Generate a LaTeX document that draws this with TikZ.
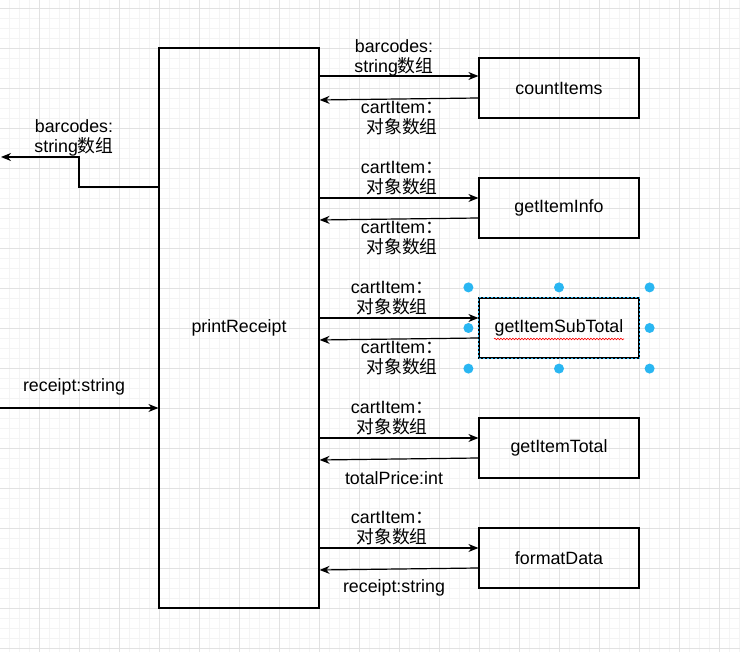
\documentclass[tikz,border=0pt]{standalone}
\usepackage{fontspec}
\setmainfont{Liberation Sans}
\newfontfamily\cjk{Noto Sans CJK SC}
\usetikzlibrary{arrows.meta,decorations.pathmorphing,calc}
\newcommand\zh[1]{{\cjk #1}}
\definecolor{handleblue}{HTML}{29B6F2}
\definecolor{minorgrid}{HTML}{F4F4F4}
\definecolor{majorgrid}{HTML}{E2E2E2}
\begin{document}
\begin{tikzpicture}[x=1pt,y=-1pt,
 box/.style={draw,line width=1.2pt,minimum width=160pt,minimum height=60pt,inner sep=0pt,font=\fontsize{17.8}{20}\selectfont},
 arr/.style={line width=1.2pt,-{Stealth[length=10pt,width=8pt]}},
 lbl/.style={align=center,inner sep=0pt,font=\fontsize{17.8}{20}\selectfont},
 handle/.style={circle,fill=handleblue,inner sep=0pt,minimum size=10pt}]
\useasboundingbox (0,0) rectangle (740,652);
\fill[white] (0,0) rectangle (740,652);
% grid
\foreach \x in {9.5,19.5,...,739.5} \draw[minorgrid,line width=0.8pt] (\x,0) -- (\x,652);
\foreach \y in {8,18,...,648} \draw[minorgrid,line width=0.8pt] (0,\y) -- (740,\y);
\foreach \x in {39.5,79.5,...,719.5} \draw[majorgrid,line width=0.8pt] (\x,0) -- (\x,652);
\foreach \y in {8,48,...,648} \draw[majorgrid,line width=0.8pt] (0,\y) -- (740,\y);

% nodes
\node[box,minimum height=560pt] (pr) at (239,328) {printReceipt};
\node[box] (ci) at (559,88) {countItems};
\node[box] (gi) at (559,208) {getItemInfo};
\node[box] (gs) at (559,328) {getItemSubTotal};
\node[box] (gt) at (559,448) {getItemTotal};
\node[box] (fd) at (559,558) {formatData};

% connectors right
\draw[arr] (pr.east |- 0,76) -- (ci.west |- 0,76);
\draw[arr] (ci.west |- 0,98) -- (pr.east |- 0,100);
\draw[arr] (pr.east |- 0,198) -- (gi.west |- 0,198);
\draw[arr] (gi.west |- 0,218) -- (pr.east |- 0,220);
\draw[arr] (pr.east |- 0,318) -- (gs.west |- 0,318);
\draw[arr] (gs.west |- 0,338) -- (pr.east |- 0,340);
\draw[arr] (pr.east |- 0,438) -- (gt.west |- 0,438);
\draw[arr] (gt.west |- 0,458) -- (pr.east |- 0,460);
\draw[arr] (pr.east |- 0,548) -- (fd.west |- 0,548);
\draw[arr] (fd.west |- 0,568) -- (pr.east |- 0,570);

% left connectors
\coordinate (outL) at (1,157);
\coordinate (inR) at (0,408);
\draw[arr] (pr.west |- 0,187) -| (79,157) -- (outL);
\draw[arr] (inR) -- (pr.west |- 0,408);

% labels
\node[lbl] (l1) at (394,58) {barcodes:\\string\zh{数组}};
\node[lbl] (l2) at (402,118) {cartItem\zh{：}\\\zh{对象数组}};
\node[lbl] (l3) at (402,178) {cartItem\zh{：}\\\zh{对象数组}};
\node[lbl] (l4) at (402,238) {cartItem\zh{：}\\\zh{对象数组}};
\node[lbl] (l5) at (392,298) {cartItem\zh{：}\\\zh{对象数组}};
\node[lbl] (l6) at (402,358) {cartItem\zh{：}\\\zh{对象数组}};
\node[lbl] (l7) at (392,418) {cartItem\zh{：}\\\zh{对象数组}};
\node[lbl] (l8) at (394,478) {totalPrice:int};
\node[lbl] (l9) at (392,528) {cartItem\zh{：}\\\zh{对象数组}};
\node[lbl] (l10) at (394,588) {receipt:string};
\node[lbl] (l11) at (74,138) {barcodes:\\string\zh{数组}};
\node[lbl] (l12) at (74,387) {receipt:string};

% selection decoration
\draw[handleblue,line width=1.2pt,dash pattern=on 2pt off 2pt,dash phase=2pt] (gs.north west) rectangle (gs.south east);
\draw[red,line width=0.6pt,decorate,decoration={snake,amplitude=0.8pt,segment length=3pt}] (494,339) -- (624,339);
\foreach \p/\q in {north west/{-10,-10},north/{0,-10},north east/{10,-10},west/{-10,0},east/{10,0},south west/{-10,10},south/{0,10},south east/{10,10}}
  \node[handle] at ($(gs.\p)+(\q)$) {};
\end{tikzpicture}
\end{document}
